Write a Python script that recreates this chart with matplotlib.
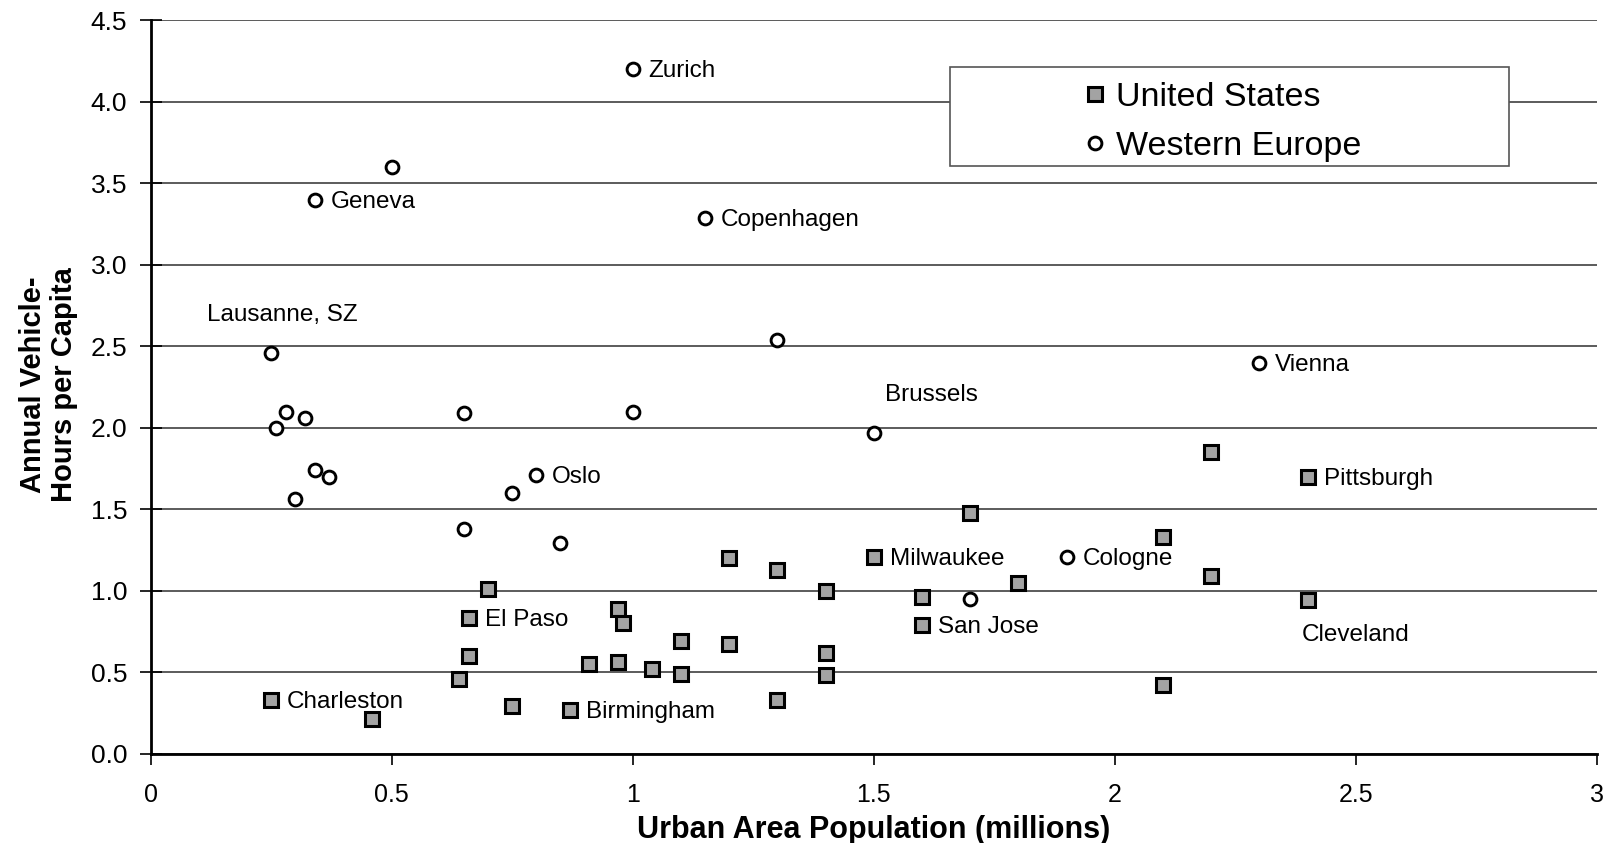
import matplotlib
matplotlib.use('Agg')
import matplotlib.pyplot as plt
from matplotlib.lines import Line2D
from matplotlib.patches import Rectangle

plt.rcParams['font.family'] = ['Liberation Sans', 'DejaVu Sans']

# United States: urban area population (millions), annual vehicle-hours per capita
US_POP = [2.40, 2.20, 1.70, 2.10, 1.50, 1.20, 1.30, 2.20, 0.70, 1.40,
          1.80, 1.60, 2.40, 0.97, 0.98, 0.66, 1.60, 1.10, 1.20, 0.66,
          1.40, 0.91, 0.97, 1.04, 1.10, 0.64, 1.40, 2.10, 0.25, 1.30,
          0.75, 0.87, 0.46]
US_HOURS = [1.70, 1.85, 1.48, 1.33, 1.21, 1.20, 1.13, 1.09, 1.01, 1.00,
            1.05, 0.96, 0.94, 0.89, 0.80, 0.83, 0.79, 0.69, 0.67, 0.60,
            0.62, 0.55, 0.56, 0.52, 0.49, 0.46, 0.48, 0.42, 0.33, 0.33,
            0.29, 0.27, 0.21]
US_NAMES = ['Pittsburgh', '', '', '', 'Milwaukee', '', '', '', '', '',
            '', '', 'Cleveland', '', '', 'El Paso', 'San Jose', '', '', '',
            '', '', '', '', '', '', '', '', 'Charleston', '',
            '', 'Birmingham', '']

# Western Europe
EU_POP = [1.00, 0.50, 0.34, 1.15, 0.25, 1.30, 2.30, 0.28, 0.32, 0.26,
          0.65, 1.00, 1.50, 0.34, 0.37, 0.80, 0.30, 0.75, 0.65, 0.85,
          1.90, 1.70]
EU_HOURS = [4.20, 3.60, 3.40, 3.29, 2.46, 2.54, 2.40, 2.10, 2.06, 2.00,
            2.09, 2.10, 1.97, 1.74, 1.70, 1.71, 1.56, 1.60, 1.38, 1.29,
            1.21, 0.95]
EU_NAMES = ['Zurich', '', 'Geneva', 'Copenhagen', 'Lausanne, SZ', '', 'Vienna',
            '', '', '', '', '', 'Brussels', '', '', 'Oslo', '', '', '', '',
            'Cologne', '']

# label offsets in points (default: to the right of the marker)
DEFAULT_OFFSET = (11.5, -1.5)
LABEL_OFFSETS = {
    'Lausanne, SZ': (-46, 27.5),
    'Brussels': (8, 27),
    'Cleveland': (-4, -25),
}

fig = plt.figure(figsize=(16.08, 8.43), dpi=100)
ax = fig.add_axes([0.0937, 0.106, 0.8993, 0.8697])

US_STYLE = dict(linestyle='none', marker='s', markersize=9.8,
                markerfacecolor='#a3a3a3', markeredgecolor='black',
                markeredgewidth=2.2)
EU_STYLE = dict(linestyle='none', marker='o', markersize=9.2,
                markerfacecolor='white', markeredgecolor='black',
                markeredgewidth=2.1)

ax.plot(US_POP, US_HOURS, zorder=4, **US_STYLE)
ax.plot(EU_POP, EU_HOURS, zorder=4, **EU_STYLE)

for xs, ys, names in ((US_POP, US_HOURS, US_NAMES), (EU_POP, EU_HOURS, EU_NAMES)):
    for x, y, name in zip(xs, ys, names):
        if not name:
            continue
        ax.annotate(name, (x, y), xytext=LABEL_OFFSETS.get(name, DEFAULT_OFFSET),
                    textcoords='offset points', ha='left', va='center',
                    fontsize=17.5, zorder=5)

ax.set_xlim(0, 3)
ax.set_ylim(0, 4.5)
ax.set_xticks([0, 0.5, 1, 1.5, 2, 2.5, 3])
ax.set_xticklabels(['0', '0.5', '1', '1.5', '2', '2.5', '3'])
ax.set_yticks([i * 0.5 for i in range(10)])
ax.set_yticklabels(['%.1f' % (i * 0.5) for i in range(10)])

ax.grid(True, axis='y', color='#404040', linewidth=1.2, zorder=1)
ax.set_axisbelow(True)
for side in ('top', 'right'):
    ax.spines[side].set_visible(False)
for side in ('left', 'bottom'):
    ax.spines[side].set_linewidth(2.0)
    ax.spines[side].set_zorder(3)

ax.tick_params(axis='y', direction='inout', length=16, width=1.2,
               labelsize=19, pad=9)
ax.tick_params(axis='x', direction='out', length=8, width=1.2,
               labelsize=18, pad=13)

ax.set_xlabel('Urban Area Population (millions)', fontsize=22,
              fontweight='bold', labelpad=6)
fig.text(48.5 / 1608, 1 - 385 / 843, 'Annual Vehicle-\nHours per Capita',
         rotation=90, ha='center', va='center', multialignment='center',
         fontsize=21, fontweight='bold', linespacing=1.15)

# legend box
ax.add_patch(Rectangle((0.553, 0.802), 0.386, 0.135, transform=ax.transAxes,
                       facecolor='white', edgecolor='#555555', linewidth=1.2,
                       zorder=6, clip_on=False))
handles = [Line2D([], [], **US_STYLE), Line2D([], [], **EU_STYLE)]
leg = ax.legend(handles, ['United States', 'Western Europe'],
                loc='center left', bbox_to_anchor=(0.646, 0.862),
                frameon=False, fontsize=24.5, handlelength=0.6,
                handletextpad=0.32, borderpad=0, borderaxespad=0,
                labelspacing=0.52)
leg.set_zorder(7)

fig.savefig('out.png', dpi=100)
